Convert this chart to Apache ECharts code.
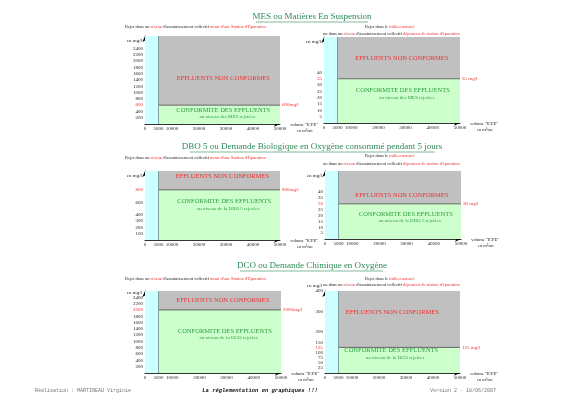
<!DOCTYPE html>
<html>
<head>
<meta charset="utf-8">
<script src="https://cdn.jsdelivr.net/npm/echarts@6/dist/echarts.min.js"></script>
<style>
  html, body { margin: 0; padding: 0; background: #fff; }
  #chart { width: 566px; height: 400px; }
</style>
</head>
<body>
<div id="chart"></div>
<script>
// axe des x commun aux 6 graphiques
var xTicks = [0, 5000, 10000, 20000, 30000, 40000, 50000]
var xMax = 50000
var zoneLimite = 5000

// ordre : MES gauche, MES droite, DBO5 gauche, DBO5 droite, DCO gauche, DCO droite
var seuils = [600, 35, 800, 30, 2000, 125]
var seuilLabels = ['600mg/l', '35 mg/l', '800mg/l', '30 mg/l', '2000mg/l', '125 mg/l']
var yMax = [2800, 68, 1100, 58, 2600, 400]
var yTicksMES = [200, 400, 600, 800, 1000, 1200, 1400, 1600, 1800, 2000, 2200, 2400]
var yTicksPetit = [5, 10, 15, 20, 25, 30, 35, 40]
var yTicksDBO = [100, 200, 300, 400, 600, 800]
var yTicksDCO = [200, 400, 600, 800, 1000, 1200, 1400, 1600, 1800, 2000, 2200, 2400]
var yTicksDCO2 = [25, 50, 75, 100, 125, 150, 200, 300, 400]
var yTicks = [yTicksMES, yTicksPetit, yTicksDBO, yTicksPetit, yTicksDCO, yTicksDCO2]
var parametres = ['des MES', 'des MES', 'de la DBO 5', 'de la DBO 5', 'de la DCO', 'de la DCO']

// mise en page
var yIntervals = [200, 5, 100, 5, 200, 25]
var grids = [
  {left: 145, top: 36, width: 135, height: 88},
  {left: 324, top: 37, width: 136, height: 86},
  {left: 145, top: 171, width: 135, height: 69},
  {left: 325, top: 171, width: 136, height: 68},
  {left: 145, top: 291, width: 136, height: 82},
  {left: 325, top: 291, width: 135, height: 82}
]
var offsetsGris = [[4, 8], [3, 0], [3, -4], [2, 8], [3, 0], [-7, -7]]
var offsetsVert = [[4, -1], [4, -7], [5, -10], [6, -4], [5, -7], [-8, -6]]

var serif = 'Liberation Serif'
var rouge = '#f03030'
var vertTexte = '#2e9e3e'
var cyan = '#ccffff'
var gris = '#c0c0c0'
var vert = '#ccffcc'

var chart = echarts.init(document.getElementById('chart'))

var xAxes = [], yAxes = [], series = []
for (var i = 0; i < 6; i++) {
  (function (i) {
    xAxes.push({
      gridIndex: i, type: 'value', min: 0, max: xMax, interval: 5000,
      splitLine: {show: false}, axisTick: {show: false},
      axisLine: {onZero: false, symbol: ['none', 'arrow'], symbolSize: [4, 6], lineStyle: {color: '#000', width: 0.8}},
      axisLabel: {
        fontSize: 5, margin: 2, color: '#222', fontFamily: serif,
        formatter: function (v) { return xTicks.indexOf(v) >= 0 ? '' + v : '' }
      },
      name: 'volume "ICPE"\n      en m³/an', nameLocation: 'end', nameGap: 3,
      nameTextStyle: {fontSize: 4.5, fontFamily: serif, color: '#222', align: 'left', verticalAlign: 'top', lineHeight: 6, padding: [-2, 0, 0, 0]}
    })
    yAxes.push({
      gridIndex: i, type: 'value', min: 0, max: yMax[i], interval: yIntervals[i],
      splitLine: {show: false}, axisTick: {show: false},
      axisLine: {show: true, onZero: false, symbol: ['none', 'arrow'], symbolSize: [4, 6], lineStyle: {color: '#000', width: 0.8}},
      axisLabel: {
        fontSize: 5, margin: 2, color: '#222', fontFamily: serif,
        formatter: function (v) {
          if (yTicks[i].indexOf(v) < 0) return ''
          return v === seuils[i] ? '{r|' + v + '}' : '' + v
        },
        rich: {r: {color: rouge, fontSize: 5, fontFamily: serif}}
      },
      name: 'en mg/l', nameLocation: 'end', nameGap: -7,
      nameTextStyle: {fontSize: 5, fontFamily: serif, color: '#222', align: 'right', padding: [0, 3, 0, 0]}
    })
    series.push({
      type: 'line', xAxisIndex: i, yAxisIndex: i, silent: true, symbol: 'none',
      data: [[zoneLimite, seuils[i]], [xMax, seuils[i]]],
      lineStyle: {color: '#666', width: 1},
      endLabel: {show: true, formatter: seuilLabels[i], color: rouge, fontSize: 5, fontFamily: serif, distance: 2},
      markLine: {
        silent: true, symbol: 'none', label: {show: false},
        lineStyle: {color: '#6a8a8a', width: 0.8, type: 'solid'},
        data: [{xAxis: zoneLimite}]
      },
      markArea: {
        silent: true,
        data: [
          [{xAxis: 0, yAxis: 0, itemStyle: {color: cyan}}, {xAxis: zoneLimite, yAxis: yMax[i]}],
          [{
            xAxis: zoneLimite, yAxis: seuils[i], itemStyle: {color: gris},
            label: {show: true, position: 'inside', offset: offsetsGris[i], formatter: 'EFFLUENTS NON CONFORMES',
              color: rouge, fontSize: 6.5, fontFamily: serif}
          }, {xAxis: xMax, yAxis: yMax[i]}],
          [{
            xAxis: zoneLimite, yAxis: 0, itemStyle: {color: vert},
            label: {show: true, position: 'inside', offset: offsetsVert[i],
              formatter: '{a|CONFORMITE DES EFFLUENTS}\n{b|au niveau ' + parametres[i] + ' rejetées}',
              rich: {
                a: {color: vertTexte, fontSize: 6.5, fontFamily: serif, lineHeight: 7},
                b: {color: vertTexte, fontSize: 5, fontFamily: serif, lineHeight: 7, padding: [0, 0, 0, 8]}
              }}
          }, {xAxis: xMax, yAxis: seuils[i]}]
        ]
      }
    })
  })(i)
}

// textes de la page
function sousTitreGauche(y) {
  return {
    type: 'text', left: 125, top: y - 3,
    style: {
      text: '{k|Rejet dans un }{r|réseau}{k| d\'assainissement collectif }{r|muni d\'une Station d\'Épuration}',
      rich: {k: {fontSize: 4.5, fontFamily: serif, fill: '#222'}, r: {fontSize: 4.5, fontFamily: serif, fill: rouge}}
    }
  }
}
function sousTitreDroite(y1, y2) {
  return [{
    type: 'text', left: 365, top: y1 - 3,
    style: {
      text: '{k|Rejet dans le }{r|milieu naturel}',
      rich: {k: {fontSize: 4.5, fontFamily: serif, fill: '#222'}, r: {fontSize: 4.5, fontFamily: serif, fill: rouge}}
    }
  }, {
    type: 'text', left: 323, top: y2 - 3,
    style: {
      text: '{k|ou dans un }{r|réseau}{k| d\'assainissement collectif }{r|dépourvu de station d\'épuration}',
      rich: {k: {fontSize: 4.5, fontFamily: serif, fill: '#222'}, r: {fontSize: 4.5, fontFamily: serif, fill: rouge}}
    }
  }]
}
function titre(texte, y, x1, x2) {
  return [{
    type: 'text', x: 312, y: y,
    style: {text: texte, fontSize: 9, fontFamily: serif, fill: '#2e8b57', align: 'center', verticalAlign: 'middle'}
  }, {
    type: 'line', shape: {x1: x1, y1: y + 5, x2: x2, y2: y + 5},
    style: {stroke: '#2e8b57', lineWidth: 0.6}
  }]
}

var graphics = []
  .concat(titre('MES ou Matières En Suspension', 17, 256, 368))
  .concat(titre('DBO 5 ou Demande Biologique en Oxygène consommé pendant 5 jours', 147, 190, 435))
  .concat(titre('DCO ou Demande Chimique en Oxygène', 266, 240, 383))
  .concat([sousTitreGauche(27), sousTitreGauche(158), sousTitreGauche(279)])
  .concat(sousTitreDroite(27, 34)).concat(sousTitreDroite(156, 164)).concat(sousTitreDroite(279, 285))
  .concat([
    {type: 'text', left: 35, top: 388, style: {text: 'Réalisation : MARTINEAU Virginie', fontSize: 5, fontFamily: 'Liberation Mono', fill: '#777'}},
    {type: 'text', x: 260, y: 391, style: {text: 'La réglementation en graphiques !!!', fontSize: 5.5, fontFamily: 'Liberation Mono',
      fontWeight: 'bold', fontStyle: 'italic', fill: '#111', align: 'center', verticalAlign: 'middle'}},
    {type: 'text', left: 430, top: 388, style: {text: 'Version 2 - 18/06/2007', fontSize: 5, fontFamily: 'Liberation Mono', fill: '#777'}}
  ])

chart.setOption({
  animation: false,
  grid: grids.map(function (g) { return Object.assign({containLabel: false, outerBoundsMode: 'none'}, g) }),
  xAxis: xAxes,
  yAxis: yAxes,
  series: series,
  graphic: graphics
})
</script>
</body>
</html>
